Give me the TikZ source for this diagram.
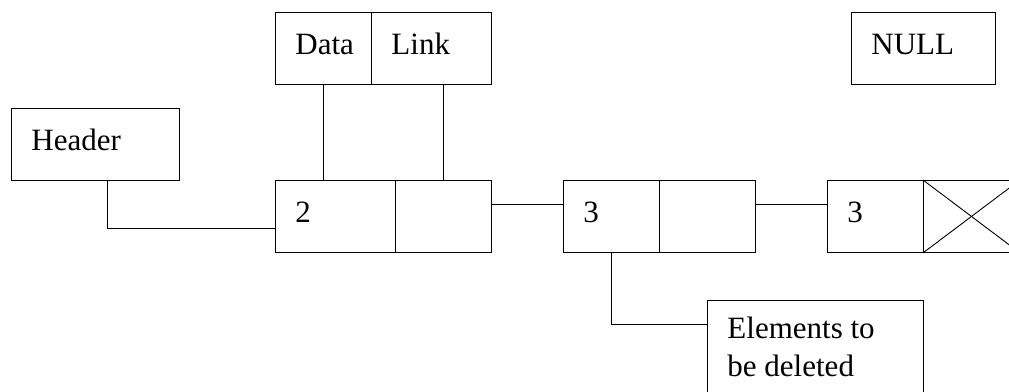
\documentclass[tikz,border=0pt]{standalone}
\usepackage{fontspec}
\setmainfont{Liberation Serif}
\usetikzlibrary{positioning}

\begin{document}
\begin{tikzpicture}[x=1pt, y=-1pt, line width=0.9pt,
    cell/.style={draw, rectangle, inner sep=0pt, anchor=north west, minimum height=72pt},
    txt/.style={anchor=base west, inner sep=0pt, font=\fontsize{31}{38}\selectfont}]
    \useasboundingbox (0,0) rectangle (1009,391);
    % the node layout
    \node[cell, minimum width=96pt] (data) at (275,12) {};
    \node[cell, minimum width=120pt] (link) at (371,12) {};
    \node[cell, minimum width=144pt] (null) at (851,12) {};
    \node[cell, minimum width=168pt] (header) at (11,108) {};
    \node[txt] at ([shift={(20pt,-42pt)}]data.north west) {Data};
    \node[txt] at ([shift={(20pt,-42pt)}]link.north west) {Link};
    \node[txt] at ([shift={(20pt,-42pt)}]null.north west) {NULL};
    \node[txt] at ([shift={(20pt,-42pt)}]header.north west) {Header};
    % the list
    \node[cell, minimum width=120pt] (n1a) at (275,180) {};
    \node[cell, minimum width=96pt] (n1b) at (395,180) {};
    \node[cell, minimum width=96pt] (n2a) at (563,180) {};
    \node[cell, minimum width=96pt] (n2b) at (659,180) {};
    \node[cell, minimum width=96pt] (n3a) at (827,180) {};
    \node[cell, minimum width=96pt] (n3b) at (923,180) {};
    \node[txt] at ([shift={(20pt,-42pt)}]n1a.north west) {2};
    \node[txt] at ([shift={(20pt,-42pt)}]n2a.north west) {3};
    \node[txt] at ([shift={(20pt,-42pt)}]n3a.north west) {3};
    \draw (n3b.north west) -- (n3b.south east);
    \draw (n3b.south west) -- (n3b.north east);
    \node[cell, minimum width=216pt, minimum height=120pt] (del) at (707,300) {};
    \node[txt] (del1) at ([shift={(20pt,-38pt)}]del.north west) {Elements to};
    \node[txt] (del2) at ([yshift=-38pt]del1.base west) {be deleted};
    % connectors
    \draw (data.south) -- (data.south |- n1a.north);
    \draw (n1b.north) -- (n1b.north |- link.south);
    \draw ([xshift=12pt]header.south) |- ([yshift=-12pt]n1a.west);
    \draw ([yshift=12pt]n1b.east) -- ([yshift=12pt]n2a.west);
    \draw ([yshift=12pt]n2b.east) -- ([yshift=12pt]n3a.west);
    \draw (n2a.south) |- ([yshift=-24pt]del.north west);
\end{tikzpicture}
\end{document}
